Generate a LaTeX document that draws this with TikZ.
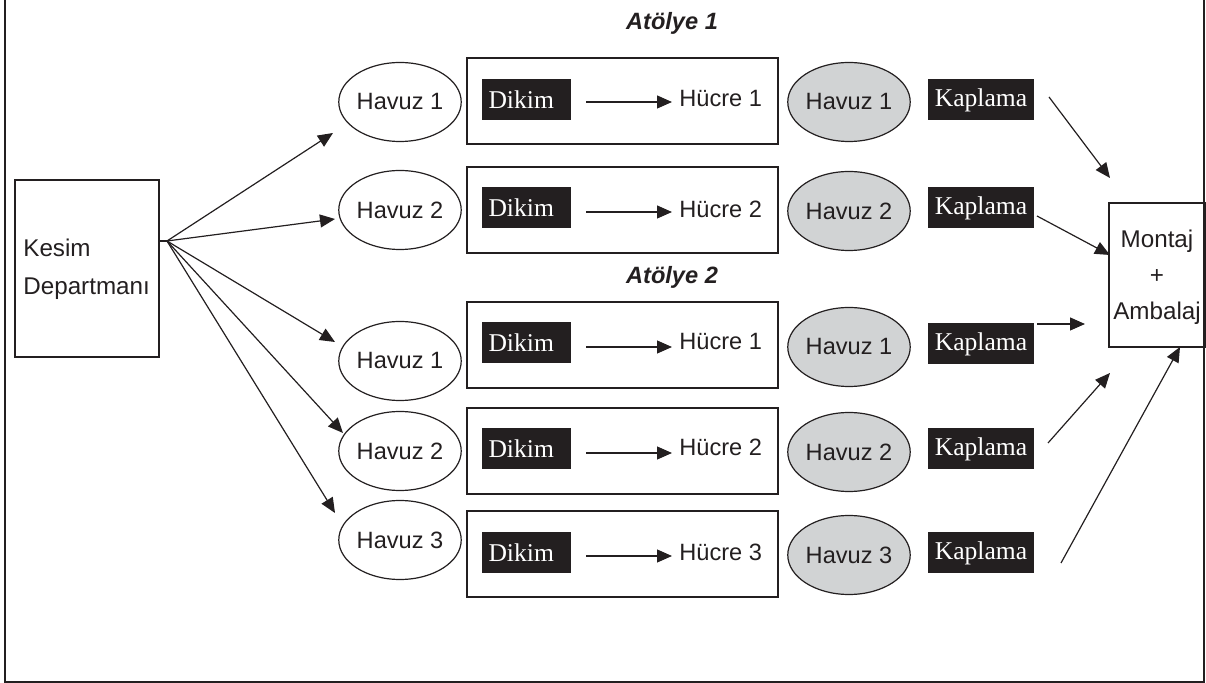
\documentclass[tikz,border=0pt]{standalone}
\usepackage{fontspec}
\setmainfont{Liberation Serif}
\setsansfont{Liberation Sans}
\usetikzlibrary{arrows.meta,shapes.geometric}
\definecolor{ink}{HTML}{231F20}
\definecolor{pool}{HTML}{D1D3D4}
\tikzset{
  every node/.style={font=\sffamily\fontsize{11.8}{13}\selectfont, text=ink},
  line/.style={draw=ink, line width=0.6pt},
  arr/.style={line, -{Triangle[length=7.5pt,width=6.5pt]}},
  pooly/.style={ellipse, line, minimum width=57.5pt, minimum height=39.5pt, inner sep=0pt},
  poolw/.style={pooly, fill=white},
  poolg/.style={pooly, fill=pool},
  cellbox/.style={line, rectangle, minimum width=155.5pt, minimum height=43pt, inner sep=0pt},
  darkbox/.style={rectangle, fill=ink, text=white, font=\rmfamily\fontsize{12.8}{14}\selectfont, minimum height=20.5pt, inner sep=0pt},
  dikimbox/.style={darkbox, minimum width=44.5pt, align=left, text width=38pt},
  kapbox/.style={darkbox, minimum width=53pt},
  hdr/.style={font=\sffamily\bfseries\itshape\fontsize{11.8}{13}\selectfont},
  txt/.style={inner sep=0pt, anchor=west}
}
\begin{document}
\begin{tikzpicture}[x=0.5pt,y=-0.5pt]
\useasboundingbox (0,0) rectangle (1206,683);
% outer frame (top edge outside the picture)
\draw[draw=ink, line width=0.8pt] (5,-10) -- (5,682) -- (1204,682) -- (1204,-10);

% Kesim
\node[line, rectangle, minimum width=72pt, minimum height=88.5pt, inner sep=0pt] (kesim) at (87,268.5) {};
\node[anchor=west, align=left, inner sep=0pt, font=\sffamily\fontsize{12.1}{19}\selectfont] (kesimtxt) at (23,269) {Kesim\\Departmanı};

% Montaj
\node[line, rectangle, minimum width=48pt, minimum height=72pt, inner sep=0pt] (montaj) at (1157,275) {};
\node[align=center, inner sep=0pt, font=\sffamily\fontsize{12.1}{18}\selectfont] (montajtxt) at (1157,277) {Montaj\\+\\Ambalaj};

% headers
\node[hdr] (at1) at (672,23) {Atölye 1};
\node[hdr] (at2) at (672,277) {Atölye 2};

% Row A1
\node[poolw] (hA) at (400,102) {Havuz 1};
\node[cellbox] (bA) at (622.5,101) {};
\node[dikimbox] (dA) at (526.5,100) {Dikim};
\node[txt] (cA) at (679,99) {Hücre 1};
\node[poolg] (gA) at (849,102) {Havuz 1};
\node[kapbox] (kA) at (981,100) {Kaplama};
% Row A2
\node[poolw] (hB) at (400,210) {Havuz 2};
\node[cellbox] (bB) at (622.5,210) {};
\node[dikimbox] (dB) at (526.5,208) {Dikim};
\node[txt] (cB) at (679,209) {Hücre 2};
\node[poolg] (gB) at (849,211) {Havuz 2};
\node[kapbox] (kB) at (981,208) {Kaplama};
% Row B1
\node[poolw] (hC) at (400,361) {Havuz 1};
\node[cellbox] (bC) at (622.5,345) {};
\node[dikimbox] (dC) at (526.5,343) {Dikim};
\node[txt] (cC) at (679,342) {Hücre 1};
\node[poolg] (gC) at (849,347) {Havuz 1};
\node[kapbox] (kC) at (981,344) {Kaplama};
% Row B2
\node[poolw] (hD) at (400,451) {Havuz 2};
\node[cellbox] (bD) at (622.5,451) {};
\node[dikimbox] (dD) at (526.5,449) {Dikim};
\node[txt] (cD) at (679,447) {Hücre 2};
\node[poolg] (gD) at (849,452) {Havuz 2};
\node[kapbox] (kD) at (981,449) {Kaplama};
% Row B3
\node[poolw] (hE) at (400,540) {Havuz 3};
\node[cellbox] (bE) at (622.5,554) {};
\node[dikimbox] (dE) at (526.5,553) {Dikim};
\node[txt] (cE) at (679,552) {Hücre 3};
\node[poolg] (gE) at (849,555) {Havuz 3};
\node[kapbox] (kE) at (981,553) {Kaplama};

% inner arrows Dikim -> Hücre
\foreach \r/\y in {A/102,B/212,C/347,D/453,E/556}{
  \draw[arr, shorten <=7.5pt, shorten >=3.5pt] (d\r.east |- 0,\y) -- (c\r.west |- 0,\y);
}

% fan from Kesim to pools
\coordinate (fan) at (167,241);
\coordinate (tA) at (333,133);
\coordinate (tB) at (335,219);
\coordinate (tC) at (335,342);
\coordinate (tD) at (343,433);
\coordinate (tE) at (335,513);
\draw[line] (kesim.east |- fan) -- (fan);
\foreach \r in {A,B,C,D,E}{ \draw[arr] (fan) -- (t\r); }

% Kaplama -> Montaj
\coordinate (sA) at (1049,97);   \coordinate (mA) at (1110,178);
\coordinate (sB) at (1037,216);  \coordinate (mB) at (1110,255);
\coordinate (sC) at (1037,324);  \coordinate (mC) at (1085,324);
\coordinate (sD) at (1048,443);  \coordinate (mD) at (1110,373);
\coordinate (sE) at (1061,563);  \coordinate (mE) at (1180,347);
\foreach \r in {A,B,C,D,E}{ \draw[arr] (s\r) -- (m\r); }
\end{tikzpicture}
\end{document}
